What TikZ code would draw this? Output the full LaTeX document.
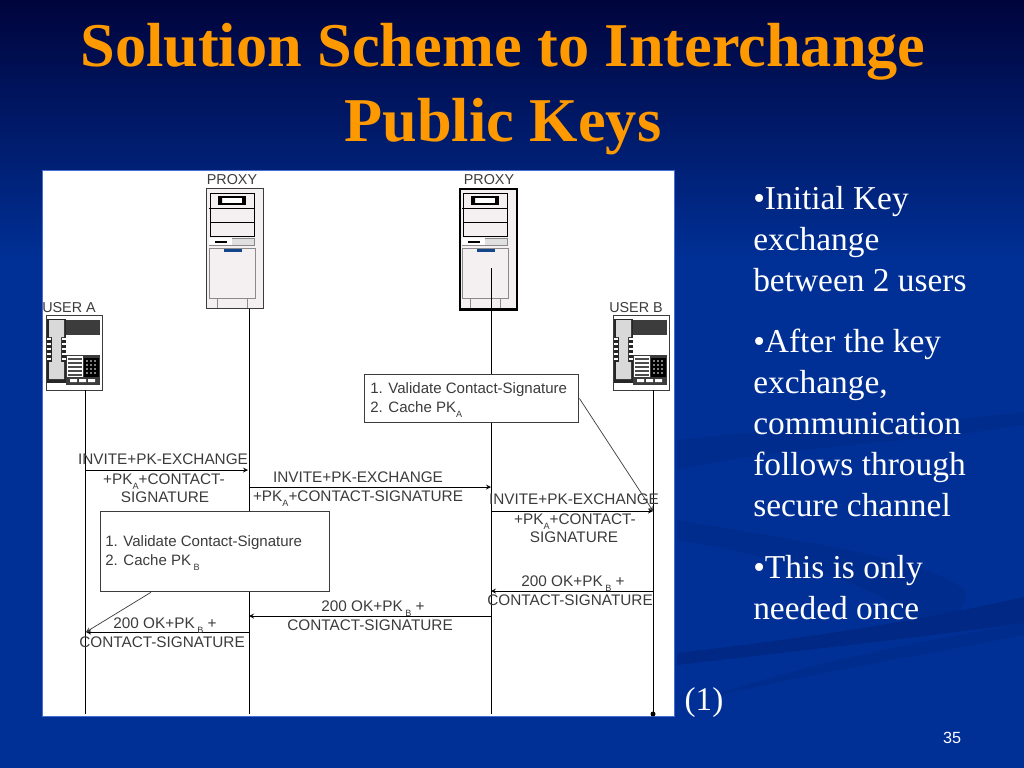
\documentclass[tikz,border=0pt]{standalone}
\usepackage{fontspec}
\setmainfont{Liberation Serif}
\setsansfont{Liberation Sans}
\usetikzlibrary{calc}
\definecolor{slidetop}{RGB}{0,4,60}
\definecolor{slidelow}{RGB}{0,48,150}
\definecolor{swoosh}{RGB}{0,40,132}
\definecolor{swooshfaint}{RGB}{0,44,141}
\definecolor{titleorange}{RGB}{255,153,0}
\definecolor{figgray}{RGB}{60,60,60}
\definecolor{casegray}{RGB}{244,240,242}
\definecolor{barblue}{RGB}{20,70,140}
\definecolor{panelrim}{RGB}{70,110,210}
\tikzset{
  pics/server/.style={code={
    \draw[black,line width=.6pt] (4,5) rectangle (48,48);
    \draw[black,line width=.5pt] (3,20) -- (48,20) (4,34) -- (48,34);
    \draw[black,fill=white,line width=.9pt] (13,9) rectangle (39,16);
    \fill[black] (13,9) rectangle (16,16) (36,9) rectangle (39,16);
    \draw[figgray!60,fill=black!12,line width=.3pt] (3,50) rectangle (48,57);
    \fill[white] (3,50) rectangle (26,57);
    \draw[black,line width=1pt] (9,54) -- (21,54);
    \draw[figgray!60,line width=.6pt] (3,60) rectangle (49,110);
    \fill[barblue] (18,61) rectangle (36,64);
    \draw[figgray!60,line width=.4pt] (11,110) -- (11,120) (41,110) -- (41,120);
  }},
  pics/phone/.style={code={
    \fill[figgray] (20,5) rectangle (54,20);
    \fill[figgray] (20,40) rectangle (54,70);
    \fill[white] (21,41) rectangle (37,62);
    \draw[black!70,line width=.9pt] (22,44) -- (36,44) (22,48) -- (36,48) (22,52) -- (36,52) (22,56) -- (36,56) (22,60) -- (36,60);
    \fill[black] (38,43) rectangle (53,62);
    \foreach \kx in {41,45,49} \foreach \ky in {46,50,54,58}
      \fill[white] (\kx,\ky) circle (.9);
    \fill[black!85] (1,4) rectangle (20,68);
    \fill[black!15] (3,5) rectangle (18,22) (6,22) rectangle (15,47) (3,47) rectangle (18,64);
    \foreach \ky in {24,29,34,39,44}
      \draw[white,line width=.8pt] (1,\ky) -- (5,\ky) (16,\ky) -- (20,\ky);
    \fill[white] (24,64) rectangle (31,67) (33,64) rectangle (40,67) (42,64) rectangle (49,67);
  }},
  lifeline/.style={draw=black, line width=.7pt},
  msg/.style={->, >=stealth, draw=black, line width=.6pt},
  note/.style={draw=figgray, line width=.8pt, fill=white, inner sep=0pt},
  lead/.style={->, >=stealth, draw=figgray, line width=.5pt},
  lbl/.style={font=\sffamily\fontsize{10.9}{10.9}\selectfont, text=figgray, align=center, inner sep=0pt},
  headlbl/.style={font=\sffamily\fontsize{10.2}{10.2}\selectfont, text=figgray, inner sep=0pt, anchor=south},
  notetxt/.style={font=\sffamily\fontsize{10.7}{14}\selectfont, text=figgray, align=left, inner sep=0pt, anchor=north west},
  bullet/.style={font=\fontsize{23.75}{29.1}\selectfont, text=white, align=left, inner sep=0pt, anchor=north west},
}
\newcommand{\subm}[1]{\raisebox{-3.5pt}{\fontsize{6.5}{6.5}\selectfont #1}}
\begin{document}
\begin{tikzpicture}[x=0.025cm,y=-0.025cm]
  \useasboundingbox (0,0) rectangle (1024,768);
  %% ── Slide background ─────────────────────────────────────────────────
  \fill[slidelow] (0,0) rectangle (1024,768);
  \shade[top color=slidetop, bottom color=slidelow] (0,0) rectangle (1024,260);
  \fill[swooshfaint] (677,440) .. controls (800,425) and (920,425) .. (1024,412) -- (1024,425) .. controls (900,445) and (790,445) .. (677,470) -- cycle;
  \fill[swooshfaint] (677,520) .. controls (800,540) and (930,560) .. (965,590) .. controls (970,610) and (950,625) .. (910,635) .. controls (930,600) and (800,560) .. (677,540) -- cycle;
  \fill[swoosh] (1024,597) .. controls (900,625) and (790,640) .. (677,653) -- (677,665) .. controls (760,655) and (900,640) .. (1024,623) -- cycle;
  \fill[swooshfaint] (1024,623) .. controls (900,645) and (800,665) .. (700,700) .. controls (800,675) and (900,660) .. (1024,635) -- cycle;

  %% ── Title ────────────────────────────────────────────────────────────
  \node[font=\fontsize{44.3}{53}\selectfont\bfseries, text=titleorange, align=center, inner sep=0pt] (title) at (503,89) {Solution Scheme to Interchange\\Public Keys};

  %% ── White figure panel ───────────────────────────────────────────────
  \node[draw=panelrim, line width=.6pt, fill=white, inner sep=0pt, anchor=north west, minimum width=449.5pt, minimum height=388.5pt] (panel) at (42,170) {};

  %% ── Proxies and phones ───────────────────────────────────────────────
  \node[draw=figgray, line width=.8pt, fill=casegray, anchor=north west, inner sep=0pt, minimum width=40.5pt, minimum height=85pt] (pxa) at (206,188) {};
  \pic at (206,188) {server};
  \node[draw=black, line width=1.5pt, fill=casegray, anchor=north west, inner sep=0pt, minimum width=41pt, minimum height=86pt] (pxb) at (458.5,187.5) {};
  \pic at (459,188) {server};
  \node[headlbl] (pxalbl) at (232,185) {PROXY};
  \node[headlbl] (pxblbl) at (489,185) {PROXY};

  \node[draw=figgray, line width=.6pt, fill=white, anchor=north west, inner sep=0pt, minimum width=39.7pt, minimum height=53pt] (usa) at (46,315) {};
  \pic at (46,315) {phone};
  \node[draw=figgray, line width=.6pt, fill=white, anchor=north west, inner sep=0pt, minimum width=39.7pt, minimum height=53pt] (usb) at (613,315) {};
  \pic at (613,315) {phone};
  \node[headlbl] (usalbl) at (69,313) {USER A};
  \node[headlbl] (usblbl) at (636,313) {USER B};

  %% ── Lifelines ────────────────────────────────────────────────────────
  \coordinate (enda) at (85,714);
  \coordinate (endp) at (249,714);
  \coordinate (endq) at (491,714);
  \coordinate (endb) at (653,714);
  \coordinate (topq) at (491,268);
  \draw[lifeline] (usa.south -| enda) -- (enda);
  \draw[lifeline] (pxa.south -| endp) -- (endp);
  \draw[lifeline] (topq) -- (endq);
  \draw[lifeline] (usb.south -| endb) -- (endb);
  \fill (endb) circle (2.5);

  %% ── Forward messages ─────────────────────────────────────────────────
  \coordinate (a1) at (85,470);   \coordinate (p1) at (248,470);
  \coordinate (p2) at (249,487);  \coordinate (q2) at (491,487);
  \coordinate (q3) at (491,511);  \coordinate (b3) at (653,511);
  \draw[msg] (a1) -- (p1);
  \draw[msg] (p2) -- (q2);
  \draw[msg] (q3) -- (b3);
  \node[lbl] (m1a) at (163,459) {INVITE+PK-EXCHANGE};
  \node[lbl] (m1b) at (164,482) {+PK\subm{A}+CONTACT-};
  \node[lbl] (m1c) at (165,497) {SIGNATURE};
  \node[lbl] (m2a) at (358,477) {INVITE+PK-EXCHANGE};
  \node[lbl] (m2b) at (358,499) {+PK\subm{A}+CONTACT-SIGNATURE};
  \node[lbl] (m3a) at (574,499) {INVITE+PK-EXCHANGE};
  \node[lbl] (m3b) at (575,522) {+PK\subm{A}+CONTACT-};
  \node[lbl] (m3c) at (574,537) {SIGNATURE};

  %% ── Replies ──────────────────────────────────────────────────────────
  \coordinate (b4) at (653,591);  \coordinate (q4) at (491,591);
  \coordinate (q5) at (491,616);  \coordinate (p5) at (249,616);
  \coordinate (p6) at (249,632);  \coordinate (a6) at (86,632);
  \draw[msg] (b4) -- (q4);
  \draw[msg] (q5) -- (p5);
  \draw[msg] (p6) -- (a6);
  \node[lbl] (m4a) at (573,584) {200 OK+PK\,\subm{B} +};
  \node[lbl] (m4b) at (570,600) {CONTACT-SIGNATURE};
  \node[lbl] (m5a) at (373,609) {200 OK+PK\,\subm{B} +};
  \node[lbl] (m5b) at (370,625) {CONTACT-SIGNATURE};
  \node[lbl] (m6a) at (165,626) {200 OK+PK\,\subm{B} +};
  \node[lbl] (m6b) at (162,642) {CONTACT-SIGNATURE};

  %% ── Notes ────────────────────────────────────────────────────────────
  \node[note, anchor=north west, minimum width=152.4pt, minimum height=34pt] (notea) at (364,374) {};
  \node[notetxt] (noteatxt) at (370,382) {1. Validate Contact-Signature\\2. Cache PK\subm{A}};
  \node[note, anchor=north west, minimum width=163pt, minimum height=57pt] (noteb) at (100,511) {};
  \node[notetxt] (notebtxt) at (105,535) {1. Validate Contact-Signature\\2. Cache PK\,\subm{B}};
  \draw[lead] (notea.east) -- (b3);
  \draw[lead] ($(noteb.south west)+(51,0)$) -- (a6);

  %% ── Right-hand text ──────────────────────────────────────────────────
  \node[bullet] (txta) at (753,186) {•Initial Key\\exchange\\between 2 users};
  \node[bullet] (txtb) at (753,329) {•After the key\\exchange,\\communication\\follows through\\secure channel};
  \node[bullet] (txtc) at (753,555) {•This is only\\needed once};
  \node[font=\fontsize{23.5}{23.5}\selectfont, text=white, inner sep=0pt] (fign) at (704,703) {(1)};
  \node[font=\sffamily\fontsize{11.5}{11.5}\selectfont, text=white, inner sep=0pt] (pageno) at (952,738) {35};
\end{tikzpicture}
\end{document}
